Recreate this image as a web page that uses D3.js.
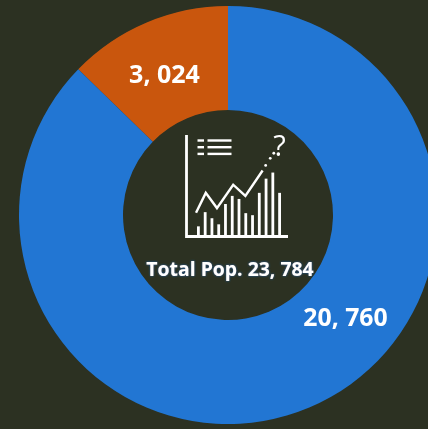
<!DOCTYPE html>
<html>
<head>
<meta charset="utf-8">
<script src="https://cdn.jsdelivr.net/npm/d3@7"></script>
<style>
html, body { margin: 0; padding: 0; background: #2c3122; overflow: hidden; }
svg { display: block; }
text { font-family: "Open Sans", sans-serif; font-weight: 700; fill: #fff; }
</style>
</head>
<body>
<div id="chart"></div>
<script>
// Donut values
var categories = ["Group A", "Group B"],
	values = [3024, 20760],
	valueLabels = ["3, 024", "20, 760"],
	totalLabel = "Total Pop. 23, 784",
	colors = ["#c9570f", "#2176d3"];

// Little chart icon in the hole
var iconBars = [10, 24, 18, 12, 32, 40, 37, 23, 21, 43, 57, 63, 43],
	iconLine = [[9.4, 23.4], [19, 43], [30, 28], [46, 51], [58, 40], [75, 65]],
	iconDots = [[78, 70], [82.5, 77], [86, 82]];

var w = 428, h = 429, cx = 228, cy = 215, outer = 209, inner = 105;

var svg = d3.select("#chart").append("svg")
	.attr("width", w)
	.attr("height", h);

var defs = svg.append("defs");
defs.append("filter").attr("id", "soft")
	.append("feGaussianBlur").attr("stdDeviation", 0.45);

defs.append("filter").attr("id", "halo")
	.attr("x", "-10%").attr("y", "-30%").attr("width", "120%").attr("height", "160%")
	.append("feDropShadow").attr("dx", 0).attr("dy", 0).attr("stdDeviation", 1.3)
	.attr("flood-color", "#1c5ea8").attr("flood-opacity", 1);

var container = svg.append("g")
	.attr("transform", "translate(" + cx + "," + cy + ")");

///////////////////////// Donut /////////////////////////
// first slice runs counter-clockwise from 12 o'clock
var pie = d3.pie().sort(null).startAngle(0).endAngle(-2 * Math.PI);
var arc = d3.arc().innerRadius(inner).outerRadius(outer);

container.selectAll("path.slice")
	.data(pie(values))
	.enter().append("path")
	.attr("class", "slice")
	.attr("d", arc)
	.attr("fill", function(d, i) { return colors[i]; })
	.attr("filter", "url(#soft)");

///////////////////////// Labels /////////////////////////
svg.append("text").attr("x", 164.5).attr("y", 83).attr("text-anchor", "middle")
	.attr("font-size", 25).attr("filter", "url(#soft)").text(valueLabels[0]);
svg.append("text").attr("x", 345.5).attr("y", 326).attr("text-anchor", "middle")
	.attr("font-size", 24.8).attr("filter", "url(#soft)").text(valueLabels[1]);
svg.append("text").attr("x", 230).attr("y", 276).attr("text-anchor", "middle")
	.attr("font-size", 19.4).attr("filter", "url(#halo)").text(totalLabel);

///////////////////////// Icon /////////////////////////
var icon = svg.append("g").attr("filter", "url(#soft)")
	.attr("fill", "none").attr("stroke", "#fff");

var ix = d3.scaleLinear().domain([0, 100]).range([186.5, 288]),
	iy = d3.scaleLinear().domain([0, 100]).range([236.5, 135]);
var bx = d3.scaleBand().domain(d3.range(iconBars.length)).range([193, 285]).padding(0.6);

// axes
icon.append("path").attr("stroke-width", 2.8)
	.attr("d", d3.line()([[ix(0), iy(100)], [ix(0), iy(0)], [ix(100), iy(0)]]));

// bars
icon.selectAll("line.bar")
	.data(iconBars)
	.enter().append("line")
	.attr("class", "bar")
	.attr("stroke-width", 2.8)
	.attr("x1", function(d, i) { return bx(i) + bx.bandwidth() / 2; })
	.attr("x2", function(d, i) { return bx(i) + bx.bandwidth() / 2; })
	.attr("y1", iy(0))
	.attr("y2", function(d) { return iy(d); });

// trend line
icon.append("path").attr("stroke-width", 2.4)
	.attr("d", d3.line()
		.x(function(d) { return ix(d[0]); })
		.y(function(d) { return iy(d[1]); })(iconLine));

// dots up to the question mark
icon.selectAll("circle")
	.data(iconDots)
	.enter().append("circle")
	.attr("fill", "#fff").attr("stroke", "none").attr("r", 1.4)
	.attr("cx", function(d) { return ix(d[0]); })
	.attr("cy", function(d) { return iy(d[1]); });

// list lines at the top
[0, 1, 2].forEach(function(r) {
	var ly = 140.5 + r * 6.7;
	icon.append("line").attr("stroke-width", 2.4).attr("x1", 197.5).attr("x2", 204).attr("y1", ly).attr("y2", ly);
	icon.append("line").attr("stroke-width", 2.4).attr("x1", 207.5).attr("x2", 231.5).attr("y1", ly).attr("y2", ly);
});

svg.append("text").attr("x", 279.5).attr("y", 156).attr("text-anchor", "middle")
	.attr("font-size", 29).style("font-weight", 400).attr("filter", "url(#soft)").text("?");
</script>
</body>
</html>
